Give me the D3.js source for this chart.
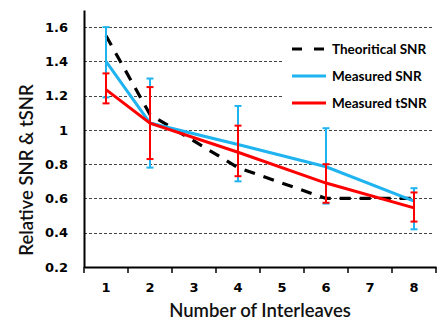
<!DOCTYPE html>
<html>
<head>
<meta charset="utf-8">
<script src="https://cdn.jsdelivr.net/npm/d3@7"></script>
<style>
  body { margin: 0; background: #fff; }
  svg { display: block; }
  .tick-label { font-family: "DejaVu Sans", sans-serif; font-weight: bold; font-size: 13px; fill: #000; }
  .axis-title { font-family: Lato, sans-serif; font-size: 18.5px; font-weight: 600; fill: #111; }
  .legend-text { font-family: Lato, sans-serif; font-weight: bold; font-size: 13.5px; fill: #000; }
</style>
</head>
<body>
<svg width="448" height="320"></svg>
<script>
const categories = ["1", "2", "3", "4", "5", "6", "7", "8"];
const yTicks = [0.2, 0.4, 0.6, 0.8, 1.0, 1.2, 1.4, 1.6];
const interleaves = ["1", "2", "4", "6", "8"];

const theoretical = [1.55, 1.09, 0.78, 0.60, 0.60];
const measuredSNR = [1.40, 1.04, 0.915, 0.785, 0.585];
const snrLow = [1.19, 0.78, 0.70, 0.57, 0.42];
const snrHigh = [1.60, 1.30, 1.14, 1.01, 0.66];
const measuredTSNR = [1.235, 1.04, 0.87, 0.69, 0.545];
const tsnrLow = [1.155, 0.83, 0.73, 0.575, 0.465];
const tsnrHigh = [1.33, 1.25, 1.025, 0.80, 0.635];

const seriesNames = ["Theoritical SNR", "Measured SNR", "Measured tSNR"];
const blue = "#1fb4ef";
const red = "#ff0000";

const svg = d3.select("svg");
const width = 448;
const height = 320;
const margin = { top: 10, right: 12, bottom: 53, left: 84 };

const x = d3.scaleBand()
    .domain(categories)
    .range([margin.left, width - margin.right])
    .padding(0);

const y = d3.scaleLinear()
    .domain([0.2, 1.7])
    .range([height - margin.bottom, margin.top]);

const cx = c => x(c) + x.bandwidth() / 2;

// gridlines
svg.append("g")
    .selectAll("line")
    .data(yTicks.filter(d => d > 0.2))
    .join("line")
    .attr("x1", margin.left)
    .attr("x2", width - margin.right - 2)
    .attr("y1", d => Math.round(y(d)) + 0.5)
    .attr("y2", d => Math.round(y(d)) + 0.5)
    .attr("stroke", "#444")
    .attr("stroke-width", 1)
    .attr("stroke-dasharray", "3,2");

// legend box (covers gridlines)
svg.append("rect")
    .attr("x", 284)
    .attr("y", 34)
    .attr("width", 152)
    .attr("height", 86)
    .attr("fill", "#fff");

// y axis
const yAxis = d3.axisLeft(y)
    .tickValues(yTicks)
    .tickSize(0)
    .tickPadding(16)
    .tickFormat(d => d === 1 ? "1" : d.toFixed(1));

const gy = svg.append("g")
    .attr("transform", `translate(${margin.left}, 0)`)
    .call(yAxis);
gy.select(".domain").attr("stroke", "#000").attr("stroke-width", 2);
gy.selectAll("text").attr("class", "tick-label");

// x axis
const xAxis = d3.axisBottom(x)
    .tickSize(0)
    .tickPadding(16);

const gx = svg.append("g")
    .attr("transform", `translate(0, ${height - margin.bottom})`)
    .call(xAxis);
gx.select(".domain").attr("stroke", "#000").attr("stroke-width", 2);
gx.selectAll("text").attr("class", "tick-label");
gx.selectAll(".boundary")
    .data(categories.map(c => x(c)).concat([x.range()[1]]))
    .join("line")
    .attr("class", "boundary")
    .attr("x1", d => d)
    .attr("x2", d => d)
    .attr("y1", 0)
    .attr("y2", 6)
    .attr("stroke", "#000")
    .attr("stroke-width", 1.5);

// lines
const line = d3.line()
    .x(d => cx(d.c))
    .y(d => y(d.v));

const pts = vals => interleaves.map((c, i) => ({ c: c, v: vals[i] }));

svg.append("path")
    .datum(pts(theoretical))
    .attr("d", line)
    .attr("fill", "none")
    .attr("stroke", "#000")
    .attr("stroke-width", 3.2)
    .attr("stroke-dasharray", "11,9");

function errorBars(low, high, color) {
    const g = svg.append("g").attr("stroke", color).attr("stroke-width", 2);
    interleaves.forEach((c, i) => {
        const xc = cx(c);
        g.append("line").attr("x1", xc).attr("x2", xc).attr("y1", y(low[i])).attr("y2", y(high[i]));
        g.append("line").attr("x1", xc - 3.5).attr("x2", xc + 3.5).attr("y1", y(low[i])).attr("y2", y(low[i]));
        g.append("line").attr("x1", xc - 3.5).attr("x2", xc + 3.5).attr("y1", y(high[i])).attr("y2", y(high[i]));
    });
}

errorBars(snrLow, snrHigh, blue);
svg.append("path")
    .datum(pts(measuredSNR))
    .attr("d", line)
    .attr("fill", "none")
    .attr("stroke", blue)
    .attr("stroke-width", 3);

errorBars(tsnrLow, tsnrHigh, red);
svg.append("path")
    .datum(pts(measuredTSNR))
    .attr("d", line)
    .attr("fill", "none")
    .attr("stroke", red)
    .attr("stroke-width", 3);

// legend
const legendColors = ["#000", blue, red];
const legend = svg.append("g");
seriesNames.forEach((name, i) => {
    const ly = 49 + i * 27;
    legend.append("line")
        .attr("x1", 292).attr("x2", 326)
        .attr("y1", ly).attr("y2", ly)
        .attr("stroke", legendColors[i])
        .attr("stroke-width", 3.2)
        .attr("stroke-dasharray", i === 0 ? "10,12" : null);
    legend.append("text")
        .attr("class", "legend-text")
        .attr("x", 332)
        .attr("y", ly)
        .attr("dy", "0.35em")
        .text(name);
});

// axis titles
svg.append("text")
    .attr("class", "axis-title")
    .attr("x", 260)
    .attr("y", 317)
    .attr("text-anchor", "middle")
    .text("Number of Interleaves");

svg.append("text")
    .attr("class", "axis-title")
    .attr("transform", "rotate(-90)")
    .attr("x", -170)
    .attr("y", 33)
    .attr("text-anchor", "middle")
    .text("Relative SNR & tSNR");
</script>
</body>
</html>
